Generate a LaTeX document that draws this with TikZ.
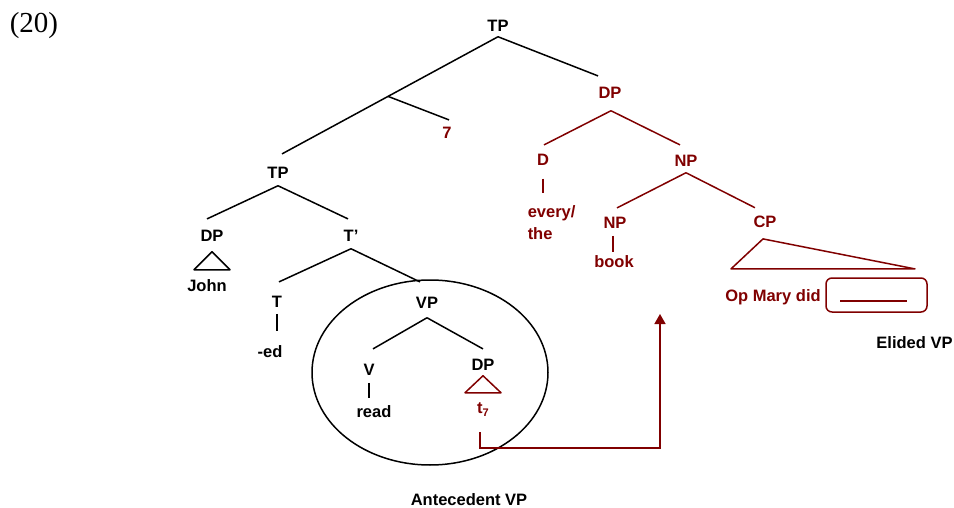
\documentclass[tikz,border=0pt]{standalone}
\usepackage{fontspec}
\setmainfont{Liberation Sans}
\newfontfamily\exfont{Liberation Serif}
\usetikzlibrary{arrows.meta,calc,shapes.geometric}
\definecolor{treered}{RGB}{128,0,0}

\begin{document}
\begin{tikzpicture}[x=1pt,y=-1pt,line width=1.5pt,line join=round,
  lbl/.style={anchor=base,inner sep=0pt,font=\fontsize{16.5}{19}\selectfont\bfseries},
  rlbl/.style={lbl,text=treered},
  redline/.style={draw=treered},
  tip/.style={-{Triangle[width=11pt,length=10pt]}}]
\useasboundingbox (0,0) rectangle (954,508);

% example number
\node[anchor=base,inner sep=0pt,font=\exfont\fontsize{29}{31}\selectfont] (ex) at (34,33) {(20)};

% upper tree
\node[lbl]  (tp)    at (498,32)  {TP};
\node[rlbl] (seven) at (447,139) {7};
\node[rlbl] (dpr)   at (610,99)  {DP};
\node[rlbl] (d)     at (543,166) {D};
\node[rlbl,anchor=base west] (every) at (527,218) {every/};
\node[rlbl,anchor=base west] (the)   at (527,240) {the};
\node[rlbl] (npu)   at (686,167) {NP};
\node[rlbl] (npl)   at (615,229) {NP};
\node[rlbl] (book)  at (614,267) {book};
\node[rlbl] (cp)    at (765,227) {CP};
\node[rlbl] (opm)   at (773,301) {Op Mary did};
\node[lbl]  (elided) at (914.5,348) {Elided VP};

% lower tree
\node[lbl] (tpl)  at (278,179) {TP};
\node[lbl] (dpl)  at (212,241) {DP};
\node[lbl] (john) at (207,291) {John};
\node[lbl] (tbar) at (351,241) {T’};
\node[lbl] (t)    at (277,307) {T};
\node[lbl] (ed)   at (270,357) {-ed};
\node[lbl] (vp)   at (427,308) {VP};
\node[lbl] (v)    at (369,375) {V};
\node[lbl] (read) at (374,417) {read};
\node[lbl] (dpv)  at (483,370) {DP};
\node[rlbl] (t7)  at (483,413) {t\raisebox{-3pt}{\fontsize{11}{11}\selectfont 7}};
\node[lbl] (ante) at (469,505) {Antecedent VP};

% antecedent VP ellipse
\node[draw,ellipse,minimum width=236pt,minimum height=185pt,inner sep=0pt] (circ) at (430,372.5) {};

% elided VP box
\node[draw=treered,rounded corners=6pt,minimum width=101pt,minimum height=34pt,inner sep=0pt] (gapbox) at (876.5,295) {};
\draw[redline] ($(gapbox.center)+(-36.5,6)$) -- ++(67,0);

% branches of the top TP
\draw ($(tp.south)+(0,4)$) -- coordinate[pos=0.509] (br) ($(tpl.north)+(4,-13)$);
\draw (br) -- ($(seven.north)+(2,-7)$);
\draw ($(tp.south)+(0,4)$) -- ($(dpr.north)+(-12,-11)$);

% quantified DP
\draw[redline] ($(dpr.south)+(1,11)$) -- ($(d.north)+(1,-9)$);
\draw[redline] ($(dpr.south)+(1,11)$) -- ($(npu.north)+(-6,-10)$);
\draw[redline] ($(d.south)+(0,12)$) -- ++(0,14);
\draw[redline] ($(npu.south)+(0,5)$) -- ($(npl.north)+(2,-9)$);
\draw[redline] ($(npu.south)+(0,5)$) -- ($(cp.north)+(-10,-7)$);
\draw[redline] ($(npl.south)+(-2,6)$) -- ++(0,16);
\draw[redline] ($(cp.south)+(-2,11)$) -- ++(-32,30) -- ++(184,0) -- cycle;

% lower TP
\draw ($(tpl.south)+(0,6)$) -- ($(dpl.north)+(-5,-10)$);
\draw ($(tpl.south)+(0,6)$) -- ($(tbar.north)+(-3,-10)$);
\draw ($(dpl.south)+(0,10)$) -- ++(-18,18) -- ++(36,0) -- cycle;
\draw ($(tbar.south)+(0,7)$) -- ($(t.north)+(2,-13)$);
\draw ($(tbar.south)+(0,7)$) -- ($(vp.north)+(-7,-14)$);
\draw ($(t.south)+(0,6)$) -- ++(0,17);
\draw ($(vp.south)+(0,9)$) -- ($(v.north)+(4,-14)$);
\draw ($(vp.south)+(0,9)$) -- ($(dpv.north)+(0,-9)$);
\draw ($(v.south)+(0,7)$) -- ++(0,15);
\draw[redline] ($(dpv.south)+(0,5)$) -- ++(-18,17) -- ++(36,0) -- cycle;

% movement of the trace
\coordinate (land) at (660,314);
\draw[redline,tip,line join=miter] ($(t7.base)+(-3,19)$) |- ($(land)+(0,134)$) -- (land);
\end{tikzpicture}
\end{document}
